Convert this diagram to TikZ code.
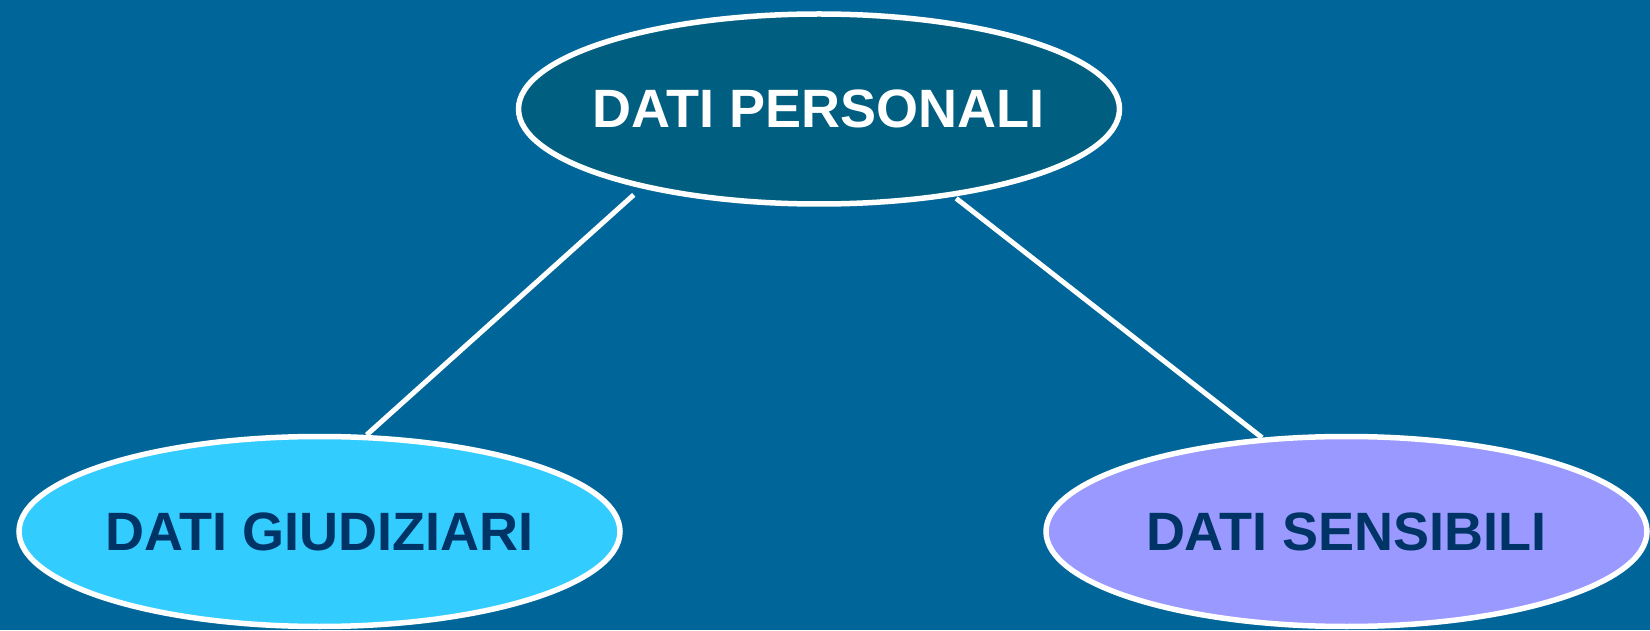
\documentclass[tikz,border=0pt]{standalone}
\usepackage{fontspec}
\setmainfont{Liberation Sans}
\usetikzlibrary{shapes}
\usetikzlibrary{positioning}
\definecolor{slidebg}{RGB}{0,102,153}
\definecolor{topfill}{RGB}{0,94,128}
\definecolor{cyanfill}{RGB}{51,204,255}
\definecolor{lilacfill}{RGB}{153,153,255}
\definecolor{navytext}{RGB}{0,51,102}
\tikzset{
  datum/.style={ellipse,draw=white,line width=5.5pt,inner ysep=0pt,inner xsep=-150pt,
    minimum width=601pt,minimum height=190pt,
    font=\fontsize{54}{60}\selectfont\bfseries},
  link/.style={draw=white,line width=5pt}
}

\begin{document}
\begin{tikzpicture}[x=1pt,y=1pt]
  %
  \fill[slidebg] (0,0) rectangle (1650,630);
  \useasboundingbox (0,0) rectangle (1650,630);

  \node[datum,fill=topfill,text=white] (personali) at (819,521) {DATI PERSONALI};
  \node[datum,fill=cyanfill,text=navytext] (giudiziari) at (319.5,98.5) {DATI GIUDIZIARI};
  \node[datum,fill=lilacfill,text=navytext] (sensibili) at (1346.5,98.5) {DATI SENSIBILI};

  \draw[link,shorten <=10pt] (personali.204.5) -- (giudiziari.64);
  \draw[link,shorten <=3pt] (personali.327) -- (sensibili.132.8);

\end{tikzpicture}
\end{document}
